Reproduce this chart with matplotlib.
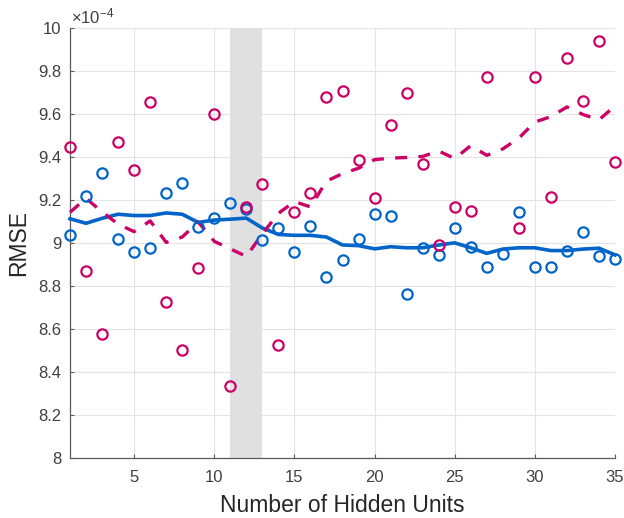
import numpy as np
import matplotlib.pyplot as plt
from matplotlib.ticker import FuncFormatter

plt.rcParams['font.family'] = ['Liberation Sans', 'DejaVu Sans']
plt.rcParams['mathtext.fontset'] = 'custom'
plt.rcParams['mathtext.rm'] = 'Liberation Sans'
plt.rcParams['mathtext.it'] = 'Liberation Sans'

# RMSE values in units of 1e-4
hidden_units = list(range(1, 36))

red_points = [9.45, 8.87, 8.58, 9.47, 9.34, 9.66, 8.73, 8.505, 8.885, 9.60,
              8.335, 9.17, 9.275, 8.53, 9.145, 9.235, 9.68, 9.71, 9.39, 9.21,
              9.55, 9.70, 9.37, 8.995, 9.17, 9.15, 9.775, np.nan, 9.07, 9.775,
              9.215, 9.865, 9.665, 9.94, 9.38]

blue_points = [9.04, 9.22, 9.33, 9.02, 8.96, 8.98, 9.235, 9.28, 9.075, 9.12,
               9.19, 9.16, 9.015, 9.07, 8.96, 9.08, 8.845, 8.925, 9.02, 9.135,
               9.13, 8.765, 8.98, 8.947, 9.072, 8.985, 8.892, 8.95, 9.148, 8.89,
               8.892, 8.967, 9.055, 8.94, 8.93]

red_trend = [9.145, 9.21, 9.147, 9.09, 9.055, 9.105, 9.005, 9.03, 9.10, 9.01,
             8.975, 8.94, 9.045, 9.14, 9.195, 9.17, 9.29, 9.325, 9.35, 9.39,
             9.397, 9.40, 9.405, 9.43, 9.395, 9.455, 9.41, 9.44, 9.49, 9.565,
             9.59, 9.635, 9.60, 9.575, 9.64]

blue_trend = [9.115, 9.094, 9.117, 9.136, 9.13, 9.13, 9.142, 9.136, 9.098, 9.109,
              9.113, 9.118, 9.072, 9.042, 9.038, 9.038, 9.03, 8.993, 8.99, 8.975,
              8.985, 8.98, 8.98, 8.993, 9.003, 8.98, 8.954, 8.974, 8.98, 8.98,
              8.967, 8.967, 8.974, 8.978, 8.947]

band = (11, 13)

red = '#CC0066'
blue = '#0064C8'

fig = plt.figure(figsize=(6.24, 5.18), dpi=100)
ax = fig.add_axes([0.1122, 0.1149, 0.8734, 0.8301])

ax.axvspan(band[0], band[1], color='#E0E0E0', zorder=1, lw=0)

ax.plot(hidden_units, blue_trend, '-', color=blue, lw=2.6, zorder=3, clip_on=False)
ax.plot(hidden_units, red_trend, '--', color=red, lw=2.4, dashes=(3.6, 3.4), zorder=3,
        clip_on=False)
ax.plot(hidden_units, blue_points, 'o', mfc='none', mec=blue, ms=7.4, mew=1.6, zorder=4,
        clip_on=False)
ax.plot(hidden_units, red_points, 'o', mfc='none', mec=red, ms=7.4, mew=1.6, zorder=5,
        clip_on=False)

ax.set_xlim(1, 35)
ax.set_ylim(8, 10)
ax.set_xticks([5, 10, 15, 20, 25, 30, 35])
ax.set_yticks(np.arange(8, 10.01, 0.2))
ax.yaxis.set_major_formatter(FuncFormatter(lambda v, p: '%g' % round(v, 1)))

ax.grid(True, color='#E3E3E3', lw=0.8)
ax.set_axisbelow(True)
for s in ['top', 'right']:
    ax.spines[s].set_visible(False)
for s in ['left', 'bottom']:
    ax.spines[s].set_color('#5A5A5A')
    ax.spines[s].set_linewidth(0.9)
ax.tick_params(direction='in', length=3, color='#5A5A5A', labelsize=12,
               labelcolor='#404040')
ax.tick_params(axis='x', pad=8)
ax.tick_params(axis='y', pad=6)

ax.set_xlabel('Number of Hidden Units', fontsize=16.5, color='#262626', labelpad=7)
ax.set_ylabel('RMSE', fontsize=16.5, color='#262626', labelpad=6)
ax.text(0.002, 1.006, r'$\times$10$^{-4}$', transform=ax.transAxes,
        fontsize=12, color='#404040', va='bottom', ha='left')

fig.savefig('out.png', dpi=100)
